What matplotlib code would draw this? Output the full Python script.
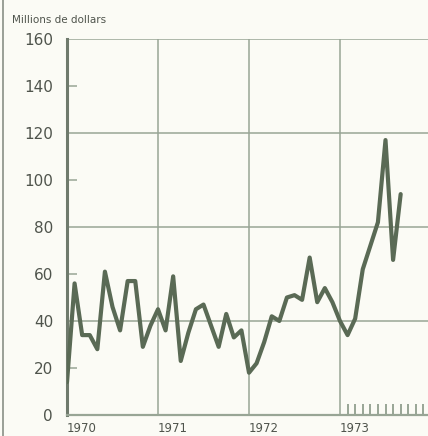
#!/usr/bin/env python3
"""Monthly values 1970-1973, in millions of dollars."""

import numpy as np
import matplotlib
matplotlib.use("Agg")
import matplotlib.pyplot as plt
from matplotlib.lines import Line2D

# Monthly values, Jan 1970 .. Sep 1973
values_1970 = [14, 56, 34, 34, 28, 61, 46, 36, 57, 57, 29, 38]
values_1971 = [45, 36, 59, 23, 35, 45, 47, 38, 29, 43, 33, 36]
values_1972 = [18, 22, 31, 42, 40, 50, 51, 49, 67, 48, 54, 48]
values_1973 = [40, 34, 41, 62, 72, 82, 117, 66, 94]

years = ["1970", "1971", "1972", "1973"]
y_labels = ["0", "20", "40", "60", "80", "100", "120", "140", "160"]
y_unit = "Millions de dollars"

values = values_1970 + values_1971 + values_1972 + values_1973
months = np.arange(len(values))

bg = "#fbfbf5"
grid_col = "#98a595"
line_col = "#5a6a55"
text_col = "#4f544c"

fig = plt.figure(figsize=(4.28, 4.36), dpi=100, facecolor=bg)
ax = fig.add_axes([67 / 428, 21 / 436, 361 / 428, 376 / 436])
ax.set_facecolor(bg)

# Grid: yearly verticals, every 40 horizontally
for yr in range(1, 4):
    ax.axvline(12 * yr, color=grid_col, linewidth=1.1, zorder=1)
for v in (40, 80, 120, 160):
    ax.axhline(v, color=grid_col, linewidth=1.1, zorder=1)

# Short ticks inside the left axis at 20, 60, 100, 140
for v in (20, 60, 100, 140):
    ax.plot([0, 1.3], [v, v], color=grid_col, linewidth=1.1, zorder=1,
            solid_capstyle="butt")

# Monthly ticks in 1973
for m in range(1, 12):
    ax.plot([36 + m, 36 + m], [0, 4.5], color=grid_col, linewidth=1.4,
            zorder=1, solid_capstyle="butt")

ax.plot(months, values, color=line_col, linewidth=3.0, zorder=3,
        solid_joinstyle="round", solid_capstyle="round")

ax.set_xlim(0, 361 / 91 * 12)
ax.set_ylim(0, 160)

for s in ("top", "right"):
    ax.spines[s].set_visible(False)
ax.spines["left"].set_color("#6f7a6c")
ax.spines["left"].set_linewidth(2.2)
ax.spines["bottom"].set_color(grid_col)
ax.spines["bottom"].set_linewidth(1.6)

ax.set_yticks(np.arange(0, 161, 20))
ax.set_yticklabels(y_labels, fontsize=11, color=text_col)
ax.tick_params(axis="y", length=0, pad=10)

ax.set_xticks([12 * i for i in range(4)])
ax.set_xticklabels(years, fontsize=8.5, color=text_col, ha="left")
ax.tick_params(axis="x", length=0, pad=5)

fig.text(12 / 428, 1 - 20 / 436, y_unit, fontsize=7.5, color=text_col,
         va="center", ha="left")

# Scan border line at the far left
fig.add_artist(Line2D([3 / 428, 3 / 428], [0, 1], color="#8a8f86",
                      linewidth=1.2, transform=fig.transFigure))

fig.savefig("out.png", dpi=100, facecolor=bg)
